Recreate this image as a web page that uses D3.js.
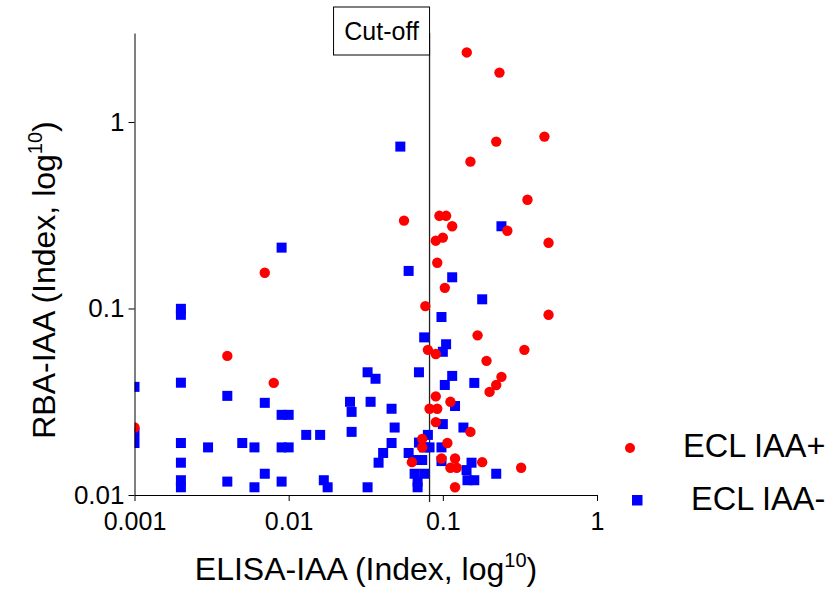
<!DOCTYPE html>
<html>
<head>
<meta charset="utf-8">
<script src="https://cdn.jsdelivr.net/npm/d3@7"></script>
<style>
  html, body { margin: 0; padding: 0; background: #fff; }
  svg { display: block; }
  text { font-family: "Liberation Sans", Arial, sans-serif; fill: #000; }
</style>
</head>
<body>
<svg id="chart" width="833" height="591"></svg>
<script>
// ---- data ----
const posX = [0.143,0.233,0.456,0.222,0.151,0.354,0.056,0.095,0.105,0.115,0.262,0.485,0.100,0.090,0.092,0.103,0.077,0.485,0.168,0.338,0.080,0.090,0.192,0.240,0.222,0.201,0.090,0.112,0.082,0.092,0.090,0.151,0.0735,0.107,0.0735,0.063,0.098,0.120,0.112,0.123,0.180,0.322,0.120,0.001,0.004,0.007,0.008];
const posY = [2.36,1.84,0.835,0.785,0.613,0.383,0.296,0.314,0.314,0.276,0.261,0.225,0.240,0.231,0.176,0.129,0.103,0.0925,0.0718,0.060,0.060,0.057,0.0524,0.043,0.0389,0.0357,0.0338,0.0316,0.029,0.029,0.0246,0.0218,0.020,0.019,0.018,0.015,0.0157,0.0157,0.014,0.014,0.015,0.014,0.011,0.023,0.0557,0.1555,0.0399];

const negX = [0.053,0.060,0.240,0.115,0.180,0.098,0.0757,0.105,0.100,0.070,0.115,0.160,0.103,0.120,0.100,0.136,0.080,0.070,0.0757,0.082,0.098,0.060,0.0643,0.0735,0.098,0.0656,0.0757,0.0686,0.0686,0.1425,0.1535,0.1445,0.160,0.222,0.0465,0.0487,0.0465,0.041,0.0383,0.0325,0.0325,0.0366,0.025,0.0256,0.0256,0.034,0.009,0.010,0.013,0.016,0.009,0.010,0.009,0.0169,0.0179,0.007,0.007,0.009,0.006,0.006,0.005,0.004,0.004,0.003,0.002,0.002,0.002,0.002,0.002,0.002,0.002,0.001,0.001,0.001];
const negY = [0.738,0.159,0.276,0.147,0.112,0.090,0.070,0.0643,0.0586,0.0455,0.0435,0.0399,0.0389,0.030,0.024,0.023,0.021,0.0191,0.018,0.018,0.018,0.0168,0.0154,0.0154,0.0152,0.013,0.013,0.0118,0.011,0.0136,0.0149,0.012,0.012,0.013,0.029,0.023,0.019,0.0168,0.0149,0.011,0.0455,0.042,0.0316,0.0279,0.0218,0.0316,0.0269,0.0269,0.021,0.021,0.018,0.018,0.0118,0.012,0.011,0.0312,0.013,0.212,0.011,0.018,0.019,0.034,0.0118,0.018,0.0996,0.0925,0.040,0.019,0.0149,0.012,0.011,0.038,0.0215,0.019];

const xTicks = [0.001, 0.01, 0.1, 1];
const xTickLabels = ["0.001", "0.01", "0.1", "1"];
const yTicks = [0.01, 0.1, 1];
const yTickLabels = ["0.01", "0.1", "1"];
const cutoff = 0.082;
const seriesNames = ["ECL IAA+", "ECL IAA-"];

// ---- chart ----
const svg = d3.select("#chart");
const pL = 134.5, pR = 597, pT = 33, pB = 495;
const x = d3.scaleLog().domain([0.001, 1]).range([pL, pR]);
const y = d3.scaleLog().domain([0.01, 3]).range([pB, pT]);

svg.append("defs").append("clipPath").attr("id", "plotclip")
  .append("rect").attr("x", pL).attr("y", pT - 10)
  .attr("width", pR - pL + 20).attr("height", pB - pT + 10);

// cut-off line
svg.append("line")
  .attr("x1", x(cutoff)).attr("x2", x(cutoff))
  .attr("y1", pT).attr("y2", pB + 7)
  .attr("stroke", "#222").attr("stroke-width", 1.3);

// cut-off label
const boxW = 96, boxH = 48;
svg.append("rect")
  .attr("x", x(cutoff) - boxW).attr("y", 7)
  .attr("width", boxW).attr("height", boxH)
  .attr("fill", "#fff").attr("stroke", "#000").attr("stroke-width", 1);
svg.append("text")
  .attr("x", x(cutoff) - boxW / 2).attr("y", 40)
  .attr("text-anchor", "middle").attr("font-size", 25)
  .text("Cut-off");

// markers
const g = svg.append("g").attr("clip-path", "url(#plotclip)");
const sq = 10;
g.selectAll("rect.neg").data(d3.range(negX.length)).join("rect")
  .attr("class", "neg")
  .attr("x", i => x(negX[i]) - sq / 2).attr("y", i => y(negY[i]) - sq / 2)
  .attr("width", sq).attr("height", sq).attr("fill", "#0000ff");
g.selectAll("circle.pos").data(d3.range(posX.length)).join("circle")
  .attr("class", "pos")
  .attr("cx", i => x(posX[i])).attr("cy", i => y(posY[i]))
  .attr("r", 5.2).attr("fill", "#ff0000");

// axes
const xAxis = d3.axisBottom(x).tickValues(xTicks)
  .tickFormat((d, i) => xTickLabels[i]).tickSizeInner(6).tickSizeOuter(0).tickPadding(11);
const gx = svg.append("g").attr("transform", `translate(0,${pB})`).call(xAxis);
gx.selectAll("text").attr("font-size", 25).attr("font-family", "Liberation Sans, Arial, sans-serif").attr("fill", "#000");
gx.selectAll("line,path").attr("stroke", "#000");

const yAxis = d3.axisLeft(y).tickValues(yTicks)
  .tickFormat((d, i) => yTickLabels[i]).tickSizeInner(6).tickSizeOuter(0).tickPadding(4);
const gy = svg.append("g").attr("transform", `translate(${pL},0)`).call(yAxis);
gy.selectAll("text").attr("font-size", 26).attr("font-family", "Liberation Sans, Arial, sans-serif").attr("fill", "#000");
gy.selectAll("line,path").attr("stroke", "#000");

// axis titles
const xt = svg.append("text").attr("x", 366).attr("y", 580)
  .attr("text-anchor", "middle").attr("font-size", 32);
xt.append("tspan").text("ELISA-IAA (Index, log");
xt.append("tspan").attr("font-size", 20).attr("dy", -13).text("10");
xt.append("tspan").attr("dy", 13).text(")");

const yt = svg.append("text").attr("transform", "translate(55,280) rotate(-90)")
  .attr("text-anchor", "middle").attr("font-size", 32);
yt.append("tspan").text("RBA-IAA (Index, log");
yt.append("tspan").attr("font-size", 20).attr("dy", -13).text("10");
yt.append("tspan").attr("dy", 13).text(")");

// legend
svg.append("circle").attr("cx", 630).attr("cy", 448).attr("r", 5).attr("fill", "#ff0000");
svg.append("text").attr("x", 683).attr("y", 457).attr("font-size", 32.5).text(seriesNames[0]);
svg.append("rect").attr("x", 632).attr("y", 495).attr("width", 10.5).attr("height", 10.5).attr("fill", "#0000ff");
svg.append("text").attr("x", 691).attr("y", 510).attr("font-size", 32.5).text(seriesNames[1]);
</script>
</body>
</html>
